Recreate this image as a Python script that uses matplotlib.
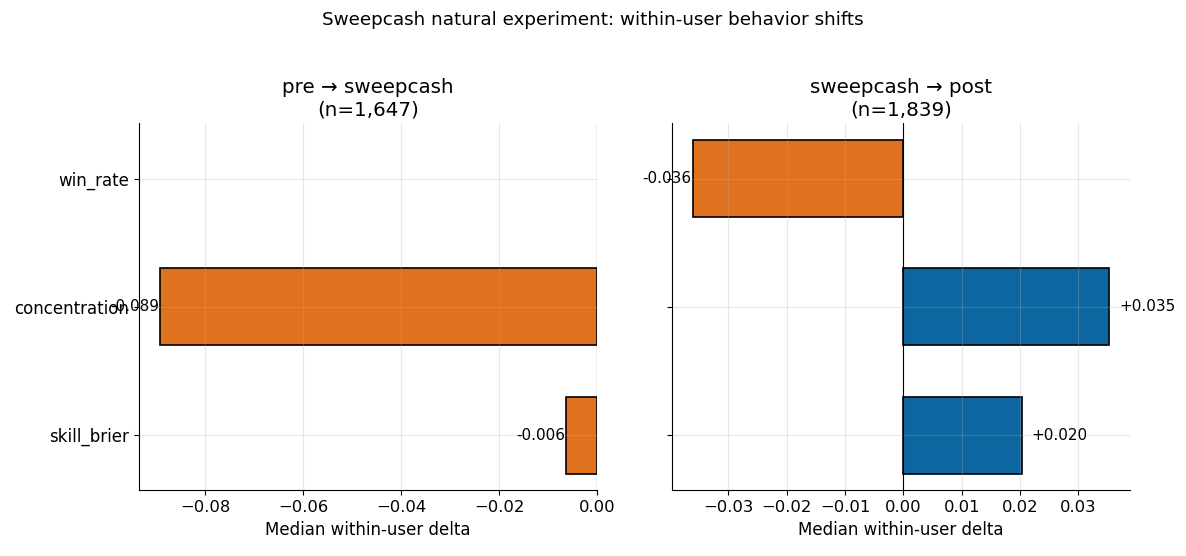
import numpy as np
import matplotlib
matplotlib.use("Agg")
import matplotlib.pyplot as plt

metrics = ["win_rate", "concentration", "skill_brier"]
pre_to_sweep = [np.nan, -0.0892, -0.0063]
sweep_to_post = [-0.0361, 0.0353, 0.0203]
panel_titles = ["pre \u2192 sweepcash\n(n=1,647)", "sweepcash \u2192 post\n(n=1,839)"]
suptitle = "Sweepcash natural experiment: within-user behavior shifts"
xlabel = "Median within-user delta"

ORANGE = "#E0711F"
BLUE = "#0D66A0"

fig, axes = plt.subplots(1, 2, figsize=(11.86, 5.56), dpi=100, sharey=True)
fig.subplots_adjust(left=0.117, right=0.953, top=0.778, bottom=0.118, wspace=0.163)

ypos = np.arange(len(metrics))[::-1]
for ax, vals, title in zip(axes, [pre_to_sweep, sweep_to_post], panel_titles):
    vals = np.array(vals, dtype=float)
    colors = [BLUE if (not np.isnan(v) and v > 0) else ORANGE for v in vals]
    ax.barh(ypos, vals, height=0.6, color=colors, edgecolor="black", linewidth=1.2, zorder=2)
    ax.axvline(0, color="black", linewidth=0.8, zorder=3)
    for y, v in zip(ypos, vals):
        if np.isnan(v):
            continue
        if v > 0:
            ax.annotate(f"+{v:.3f}", (v, y), xytext=(10, 0), textcoords="offset pixels",
                        ha="left", va="center", fontsize=11, zorder=4)
        else:
            ax.annotate(f"{v:.3f}", (v, y), xytext=(-1, 0), textcoords="offset pixels",
                        ha="right", va="center", fontsize=11, zorder=4)
    ax.set_title(title, fontsize=14.3)
    ax.set_xlabel(xlabel, fontsize=12)
    ax.grid(True, alpha=0.3, zorder=5)
    ax.set_axisbelow(False)
    ax.spines["top"].set_visible(False)
    ax.spines["right"].set_visible(False)
    ax.tick_params(labelsize=11.8)

axes[0].set_yticks(ypos)
axes[0].set_yticklabels(metrics)
axes[0].tick_params(axis="y", labelsize=12)
axes[0].set_xlim(-0.0935, 0.0)
axes[1].set_xlim(-0.0397, 0.0389)
fig.suptitle(suptitle, fontsize=13.2, y=0.98)

fig.savefig("out.png", dpi=100)
